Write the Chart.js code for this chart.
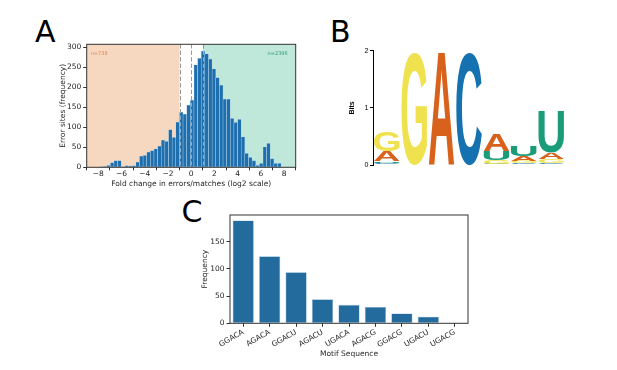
<!DOCTYPE html>
<html>
<head>
<meta charset="utf-8">
<script src="https://cdn.jsdelivr.net/npm/chart.js@4.4.1/dist/chart.umd.min.js"></script>
<style>
  body { margin: 0; background: #fff; width: 617px; height: 370px; position: relative; overflow: hidden; }
  .panel { position: absolute; font-family: "DejaVu Sans"; font-size: 30px; line-height: 30px; color: #000; }
  canvas { position: absolute; }
</style>
</head>
<body>
<div class="panel" style="left:35px;top:17px">A</div>
<div class="panel" style="left:330px;top:16.5px">B</div>
<div class="panel" style="left:181.5px;top:196.5px">C</div>
<canvas id="histChart" width="270" height="170" style="left:40px;top:30px"></canvas>
<canvas id="logoChart" width="240" height="140" style="left:340px;top:40px"></canvas>
<canvas id="motifChart" width="300" height="165" style="left:190px;top:205px"></canvas>
<script>
// A: histogram of log2 fold change
const binStart = -7.9;
const binWidth = 0.313;
const errorCounts = [1, 2, 5, 12, 17, 17, 1, 4, 3, 4,
    13, 28, 30, 38, 42, 46, 53, 68, 65, 94,
    75, 113, 138, 133, 155, 168, 256, 272, 290, 283,
    270, 246, 224, 205, 170, 170, 122, 112, 120, 76,
    35, 25, 17, 5, 10, 51, 60, 22, 10, 10];
const cutLines = [-1, 0, 1];
const lowLabel = 'n=738';
const highLabel = 'n=2396';
const histTicksY = [0, 50, 100, 150, 200, 250, 300];

// B: sequence logo, bits per letter at each position
const logoPositions = [1, 2, 3, 4, 5, 6, 7];
const bitsA = [0.18, 0.00, 1.97, 0.00, 0.30, 0.08, 0.12];
const bitsC = [0.03, 0.00, 0.00, 1.97, 0.02, 0.035, 0.04];
const bitsG = [0.34, 1.98, 0.00, 0.00, 0.06, 0.035, 0.06];
const bitsU = [0.03, 0.00, 0.00, 0.00, 0.16, 0.17, 0.73];

// C: motif counts
const motifs = ['GGACA', 'AGACA', 'GGACU', 'AGACU', 'UGACA', 'AGACG', 'GGACG', 'UGACU', 'UGACG'];
const motifCounts = [189, 123, 94, 44, 34, 30, 18, 12, 0];
const motifTicksY = [0, 50, 100, 150];

const tickFont = { family: 'DejaVu Sans', size: 7.5 };
const textColor = '#262626';
const minus = v => String(v).replace('-', '\u2212');

function fixBox(size, vertical) {
    return function (scale) {
        if (vertical) scale.width = size; else scale.height = size;
        scale.paddingTop = scale.paddingBottom = scale.paddingLeft = scale.paddingRight = 0;
    };
}

function fixTicks(values) {
    return function (scale) {
        scale.ticks = values.map(v => ({ value: v }));
    };
}

const frame = {
    id: 'frame',
    afterDraw(chart) {
        const { ctx, chartArea: a } = chart;
        ctx.save();
        ctx.strokeStyle = '#333';
        ctx.lineWidth = 1;
        ctx.strokeRect(a.left, a.top, a.right - a.left, a.bottom - a.top);
        ctx.restore();
    }
};

function dashes(chart, color) {
    const { ctx, chartArea: a, scales: { x } } = chart;
    ctx.save();
    ctx.strokeStyle = color;
    ctx.lineWidth = 1;
    ctx.setLineDash([4, 2.5]);
    cutLines.forEach(v => {
        const px = Math.round(x.getPixelForValue(v)) + 0.5;
        ctx.beginPath();
        ctx.moveTo(px, a.top);
        ctx.lineTo(px, a.bottom);
        ctx.stroke();
    });
    ctx.restore();
}

const regions = {
    id: 'regions',
    beforeDatasetsDraw(chart) {
        const { ctx, chartArea: a, scales: { x } } = chart;
        const lo = x.getPixelForValue(cutLines[0]);
        const hi = x.getPixelForValue(cutLines[2]);
        ctx.save();
        ctx.fillStyle = '#f6d7bf';
        ctx.fillRect(a.left, a.top, lo - a.left, a.bottom - a.top);
        ctx.fillStyle = '#bfe8da';
        ctx.fillRect(hi, a.top, a.right - hi, a.bottom - a.top);
        ctx.font = '5px "DejaVu Sans"';
        ctx.textBaseline = 'middle';
        ctx.fillStyle = '#e4875c';
        ctx.textAlign = 'left';
        ctx.fillText(lowLabel, a.left + 4, a.top + 9);
        ctx.fillStyle = '#2e9e78';
        ctx.textAlign = 'right';
        ctx.fillText(highLabel, a.right - 8, a.top + 9);
        ctx.restore();
        dashes(chart, '#444');
    },
    afterDatasetsDraw(chart) {
        dashes(chart, 'rgba(255,255,255,0.45)');
    }
};

new Chart(document.getElementById('histChart'), {
    type: 'bar',
    data: {
        datasets: [{
            data: errorCounts.map((c, i) => ({ x: binStart + binWidth * (i + 0.5), y: c })),
            backgroundColor: '#1f6fae',
            borderColor: 'rgba(200,225,242,0.9)',
            borderWidth: 0.5,
            barPercentage: 1,
            categoryPercentage: 1
        }]
    },
    options: {
        responsive: false,
        animation: false,
        layout: { padding: { left: 0, right: 14.3, top: 14.3, bottom: 0 } },
        plugins: { legend: { display: false }, tooltip: { enabled: false } },
        scales: {
            x: {
                type: 'linear', min: -8, max: 8,
                afterFit: fixBox(32.7, false),
                border: { display: false },
                grid: { drawOnChartArea: false, tickLength: 3, color: '#333' },
                ticks: { stepSize: 2, autoSkip: false, font: tickFont, color: textColor, padding: -1, callback: minus },
                title: { display: true, text: 'Fold change in errors/matches (log2 scale)', font: tickFont, color: textColor, padding: { top: 0, bottom: 11.2 } }
            },
            y: {
                min: 0, max: 307,
                afterFit: fixBox(46.7, true),
                afterBuildTicks: fixTicks(histTicksY),
                border: { display: false },
                grid: { drawOnChartArea: false, tickLength: 3.5, color: '#333' },
                ticks: { font: tickFont, color: textColor, padding: 2 },
                title: { display: true, text: 'Error sites (frequency)', font: tickFont, color: textColor, padding: { top: 18.5, bottom: 0 } }
            }
        }
    },
    plugins: [regions, frame]
});

// B: stack letters per position from smallest to largest
const letterColors = { A: '#d8621c', C: '#1571b0', G: '#f0e24e', U: '#1b9c78' };
const ranked = [0, 1, 2, 3].map(() => ({ values: [], letters: [] }));
logoPositions.forEach((p, i) => {
    const col = [['A', bitsA[i]], ['C', bitsC[i]], ['G', bitsG[i]], ['U', bitsU[i]]].sort((a, b) => a[1] - b[1]);
    col.forEach((pair, r) => {
        ranked[r].values.push(pair[1]);
        ranked[r].letters.push(pair[0]);
    });
});

const glyphs = {};
function glyphBox(ctx, ch) {
    if (!glyphs[ch]) {
        ctx.font = 'bold 200px "Liberation Sans"';
        const m = ctx.measureText(ch);
        glyphs[ch] = { l: m.actualBoundingBoxLeft, r: m.actualBoundingBoxRight, a: m.actualBoundingBoxAscent, d: m.actualBoundingBoxDescent };
    }
    return glyphs[ch];
}

const letters = {
    id: 'letters',
    afterDatasetsDraw(chart) {
        const ctx = chart.ctx;
        chart.data.datasets.forEach((ds, di) => {
            chart.getDatasetMeta(di).data.forEach((el, i) => {
                const p = el.getProps(['x', 'y', 'base', 'width'], true);
                const h = p.base - p.y;
                if (h < 0.4) return;
                const ch = ds.letters[i];
                const g = glyphBox(ctx, ch);
                ctx.save();
                ctx.translate(p.x - p.width / 2, p.y);
                ctx.scale(p.width / (g.l + g.r), h / (g.a + g.d));
                ctx.font = 'bold 200px "Liberation Sans"';
                ctx.textAlign = 'left';
                ctx.textBaseline = 'alphabetic';
                ctx.fillStyle = letterColors[ch];
                ctx.fillText(ch, g.l, g.a);
                ctx.restore();
            });
        });
    }
};

new Chart(document.getElementById('logoChart'), {
    type: 'bar',
    data: {
        labels: logoPositions,
        datasets: ranked.map(r => ({
            data: r.values,
            letters: r.letters,
            backgroundColor: 'rgba(0,0,0,0)',
            barPercentage: 0.93,
            categoryPercentage: 1
        }))
    },
    options: {
        responsive: false,
        animation: false,
        layout: { padding: { left: 0, right: 15, top: 10.7, bottom: 15 } },
        plugins: { legend: { display: false }, tooltip: { enabled: false } },
        scales: {
            x: { stacked: true, display: false },
            y: {
                stacked: true, min: 0, max: 2,
                afterFit: fixBox(33, true),
                border: { display: true, color: '#000', width: 1 },
                grid: { drawOnChartArea: false, tickLength: 3, color: '#000' },
                ticks: { stepSize: 1, font: { family: 'Liberation Sans', size: 7 }, color: '#000', padding: 1.5 },
                title: { display: true, text: 'Bits', font: { family: 'Liberation Sans', size: 7, weight: 'bold' }, color: '#000', padding: { top: 7.8, bottom: 0 } }
            }
        }
    },
    plugins: [letters]
});

new Chart(document.getElementById('motifChart'), {
    type: 'bar',
    data: {
        labels: motifs,
        datasets: [{
            data: motifCounts,
            backgroundColor: '#236b9d',
            borderColor: 'rgba(120,170,205,0.9)',
            borderWidth: 0.6,
            barPercentage: 0.8,
            categoryPercentage: 1
        }]
    },
    options: {
        responsive: false,
        animation: false,
        layout: { padding: { left: 0, right: 22, top: 10, bottom: 0 } },
        plugins: { legend: { display: false }, tooltip: { enabled: false } },
        scales: {
            x: {
                afterFit: fixBox(46.7, false),
                border: { display: false },
                grid: { drawOnChartArea: false, offset: false, tickLength: 3.5, color: '#333' },
                ticks: { autoSkip: false, minRotation: 30, maxRotation: 30, font: tickFont, color: textColor, padding: 1 },
                title: { display: true, text: 'Motif Sequence', font: tickFont, color: textColor, padding: { top: 0, bottom: 11.5 } }
            },
            y: {
                min: 0, max: 199,
                afterFit: fixBox(40, true),
                afterBuildTicks: fixTicks(motifTicksY),
                border: { display: false },
                grid: { drawOnChartArea: false, tickLength: 3.5, color: '#333' },
                ticks: { font: tickFont, color: textColor, padding: 2 },
                title: { display: true, text: 'Frequency', font: tickFont, color: textColor, padding: { top: 10.5, bottom: 0 } }
            }
        }
    },
    plugins: [frame]
});
</script>
</body>
</html>
